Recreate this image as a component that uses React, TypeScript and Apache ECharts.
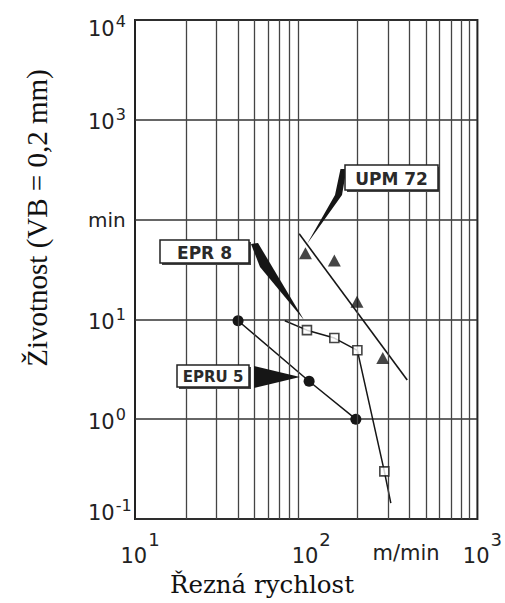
import React, { useEffect, useRef } from 'react';
import * as echarts from 'echarts';

// ---- data ----
const xTickValues = [10, 100, 1000];
const yTickValues = [0.1, 1, 10, 100, 1000, 10000];
const xGridValues = [20, 30, 40, 50, 60, 70, 80, 90, 200, 300, 400, 500, 600, 700, 800, 900];

const upmSpeed = [99, 146, 198, 280];
const upmLife = [46, 39, 15, 4.1];
const upmFitSpeed = [91, 389];
const upmFitLife = [72, 2.47];

const epr8LineSpeed = [75, 101, 146, 199, 286, 312];
const epr8LineLife = [9.7, 7.8, 6.5, 4.9, 0.3, 0.144];
const epr8Speed = [101, 146, 199, 286];
const epr8Life = [7.8, 6.5, 4.9, 0.3];

const epru5Speed = [40, 104, 195];
const epru5Life = [9.7, 2.4, 1.0];

const yLabelAtHundred = 'min';
const xUnit = 'm/min';
const yTitle = 'Životnost (VB = 0,2 mm)';
const xTitle = 'Řezná rychlost';
const calloutUPM = 'UPM 72';
const calloutEPR8 = 'EPR 8';
const calloutEPRU5 = 'EPRU 5';

const pairs = (xs: number[], ys: number[]) => xs.map((x, i) => [x, ys[i]]);

export default function App() {
  const ref = useRef<HTMLDivElement>(null);

  useEffect(() => {
    if (!ref.current) return;
    const chart = echarts.init(ref.current, undefined, { renderer: 'svg' });
    const ink = '#161616';
    const sans = 'DejaVu Sans';
    const labelInk = '#222';

    const box = (x: number, y: number, w: number, h: number, text: string, fs: number) => ([
      { type: 'rect', shape: { x: x + 2, y: y + 2, width: w, height: h }, style: { fill: '#444' }, z: 20 },
      { type: 'rect', shape: { x, y, width: w, height: h }, style: { fill: '#fff', stroke: '#222', lineWidth: 1.5 }, z: 21 },
      { type: 'text', x: x + w / 2, y: y + h / 2 + 1, z: 22,
        style: { text, fontFamily: sans, fontWeight: 'bold', fontSize: fs, fill: '#2a2a2a', align: 'center', verticalAlign: 'middle' } },
    ]);

    const option: any = {
      animation: false,
      backgroundColor: '#fff',
      textStyle: { fontFamily: sans },
      grid: {
        left: 135, top: 20, width: 348, height: 499,
        show: true, borderColor: '#222', borderWidth: 2, backgroundColor: 'transparent',
      },
      xAxis: {
        type: 'log', logBase: 10, min: xTickValues[0], max: xTickValues[xTickValues.length - 1],
        axisLine: { show: false }, axisTick: { show: false },
        splitLine: { show: false },
        axisLabel: {
          margin: 11,
          showMinLabel: true, showMaxLabel: true,
          formatter: (v: number) => `{sp| }{b|10}{e|${Math.round(Math.log10(v))}}`,
          rich: {
            sp: { width: 10, fontSize: 10 },
            b: { fontFamily: sans, fontSize: 21, color: labelInk, verticalAlign: 'bottom' },
            e: { fontFamily: sans, fontSize: 18, color: labelInk, verticalAlign: 'top', padding: [0, 0, 18, 1] },
          },
        },
      },
      yAxis: {
        type: 'log', logBase: 10, min: yTickValues[0], max: yTickValues[yTickValues.length - 1],
        axisLine: { show: false }, axisTick: { show: false },
        splitLine: { show: true, lineStyle: { color: '#333', width: 1.5 } },
        axisLabel: {
          align: 'left', margin: 47,
          showMinLabel: true, showMaxLabel: true,
          formatter: (v: number) => {
            const e = Math.round(Math.log10(v));
            if (e === 2) return `{m|${yLabelAtHundred}}`;
            const main = `{b|10}{e|${e}}`;
            if (e === 4) return `{g1| }\n${main}`;
            if (e === -1) return `${main}\n{g2| }`;
            return main;
          },
          rich: {
            b: { fontFamily: sans, fontSize: 21, color: labelInk, verticalAlign: 'bottom' },
            e: { fontFamily: sans, fontSize: 16, color: labelInk, verticalAlign: 'top', padding: [0, 0, 10, 1] },
            g1: { fontSize: 8, lineHeight: 12 },
            g2: { fontSize: 8, lineHeight: 18 },
            m: { fontFamily: sans, fontSize: 20, color: labelInk },
          },
        },
      },
      series: [
        {
          name: 'grid', type: 'line', data: [], z: 1, symbol: 'none',
          markLine: {
            silent: true, symbol: ['none', 'none'], label: { show: false },
            lineStyle: { color: '#444', width: 1.3, type: 'solid' },
            emphasis: { disabled: true },
            data: xGridValues.map((v) => ({ xAxis: v })),
          },
        },
        {
          name: 'UPM 72 fit', type: 'line', z: 3, symbol: 'none',
          data: pairs(upmFitSpeed, upmFitLife),
          lineStyle: { color: ink, width: 1.6 },
        },
        {
          name: 'UPM 72', type: 'scatter', z: 5, symbol: 'triangle', symbolSize: [13, 12],
          data: pairs(upmSpeed, upmLife),
          itemStyle: { color: ink },
        },
        {
          name: 'EPR 8 line', type: 'line', z: 3, symbol: 'none',
          data: pairs(epr8LineSpeed, epr8LineLife),
          lineStyle: { color: ink, width: 1.5 },
        },
        {
          name: 'EPR 8', type: 'scatter', z: 5, symbol: 'rect', symbolSize: 9,
          data: pairs(epr8Speed, epr8Life),
          itemStyle: { color: '#fff', borderColor: ink, borderWidth: 1.6 },
        },
        {
          name: 'EPRU 5', type: 'line', z: 4, symbol: 'circle', symbolSize: 11, showSymbol: true,
          data: pairs(epru5Speed, epru5Life),
          lineStyle: { color: ink, width: 1.5 },
          itemStyle: { color: ink, borderWidth: 0 },
        },
      ],
      graphic: [
        // wedges (callout pointers)
        { type: 'polygon', z: 19, shape: { points: [[340.5, 169], [346.5, 169], [342, 195], [307, 244], [335, 195]] }, style: { fill: ink } },
        { type: 'polygon', z: 19, shape: { points: [[251, 244], [258, 243], [304, 320], [260, 267]] }, style: { fill: ink } },
        { type: 'polygon', z: 19, shape: { points: [[254, 366], [254, 388], [300, 377]] }, style: { fill: ink } },
        ...box(345, 165, 93, 25, calloutUPM, 17),
        ...box(160, 240, 89, 23, calloutEPR8, 17),
        ...box(177, 365, 72, 22, calloutEPRU5, 15),
        {
          type: 'text', x: 406, y: 553,
          style: { text: xUnit, fontFamily: sans, fontSize: 21, fill: labelInk, align: 'center', verticalAlign: 'middle' },
        },
        {
          type: 'text', x: 37, y: 218, rotation: Math.PI / 2,
          style: { text: yTitle, fontFamily: 'Liberation Serif', fontSize: 29, fill: '#111', align: 'center', verticalAlign: 'middle' },
        },
        {
          type: 'text', x: 262, y: 584,
          style: { text: xTitle, fontFamily: 'DejaVu Serif', fontSize: 24.5, fill: '#111', align: 'center', verticalAlign: 'middle' },
        },
      ],
    };

    chart.setOption(option);
    return () => chart.dispose();
  }, []);

  return (
    <div
      ref={ref}
      style={{ position: 'absolute', left: 0, top: 0, width: 505, height: 603, background: '#fff' }}
    />
  );
}
